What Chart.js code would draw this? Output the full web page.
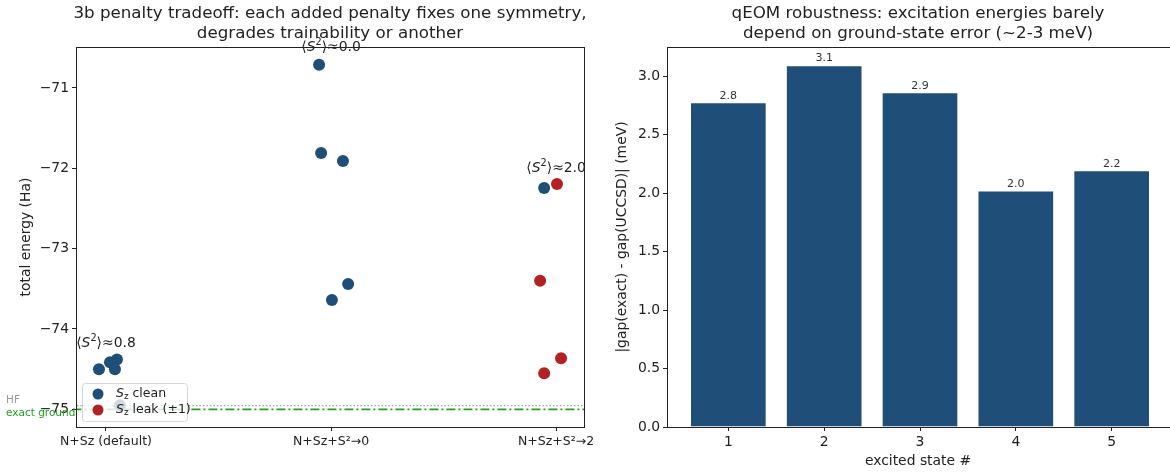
<!DOCTYPE html>
<html>
<head>
<meta charset="utf-8">
<script src="https://cdn.jsdelivr.net/npm/chart.js@4.4.1/dist/chart.umd.min.js"></script>
<style>
  html, body { margin: 0; padding: 0; background: #fff; overflow: hidden; }
  body { width: 1170px; height: 472px; position: relative; }
  canvas { position: absolute; top: 0; }
</style>
</head>
<body>
<canvas id="penaltyChart" width="600" height="472" style="left:0"></canvas>
<canvas id="qeomChart" width="575" height="472" style="left:600px"></canvas>
<script>
// left panel: energies per penalty setting (x = category index + jitter)
const penaltyCats = ['N+Sz (default)', 'N+Sz+S\u00b2\u21920', 'N+Sz+S\u00b2\u21922'];
const cleanX = [-0.031, 0.018, 0.049, 0.040, 0.062, 0.947, 0.956, 1.053, 1.004, 1.076, 1.947];
const cleanY = [-74.50, -74.415, -74.38, -74.50, -74.95, -70.71, -71.81, -71.91, -73.64, -73.44, -72.245];
const leakX = [2.004, 1.929, 2.022, 1.947];
const leakY = [-72.195, -73.40, -74.365, -74.55];
const hfEnergy = -74.955;
const exactEnergy = -75.0;
const s2Labels = ['0.8', '0.0', '2.0'];
const s2LabelY = [-74.18, -70.5, -72.0];
const energyTicks = [-75, -74, -73, -72, -71];

// right panel: qEOM gap error per excited state
const states = [1, 2, 3, 4, 5];
const gapErr = [2.776, 3.093, 2.862, 2.022, 2.194];
const gapTicks = [0, 0.5, 1.0, 1.5, 2.0, 2.5, 3.0];

const FONT = 'DejaVu Sans';
const BLUE = '#1f4e79';
const RED = '#b22222';
const GREEN = '#22a022';
const INK = '#222';

Chart.defaults.font.family = FONT;
Chart.defaults.color = INK;

// draw text made of parts: [text, style] where style is '', 'i', 'sup', 'sub'
function drawRich(ctx, parts, x, y, size, align) {
    const fontFor = (st) => {
        const sz = (st === 'sup' || st === 'sub') ? size * 0.7 : size;
        return (st === 'i' ? 'italic ' : '') + sz + 'px ' + FONT;
    };
    let total = 0;
    parts.forEach(p => { ctx.font = fontFor(p[1]); total += ctx.measureText(p[0]).width; });
    let cx = align === 'center' ? x - total / 2 : x;
    ctx.textBaseline = 'middle';
    ctx.textAlign = 'left';
    parts.forEach(p => {
        ctx.font = fontFor(p[1]);
        let dy = 0;
        if (p[1] === 'sup') dy = -size * 0.35;
        if (p[1] === 'sub') dy = size * 0.25;
        ctx.fillText(p[0], cx, y + dy);
        cx += ctx.measureText(p[0]).width;
    });
}

function drawTitle(ctx, lines, cx) {
    ctx.save();
    ctx.fillStyle = INK;
    ctx.font = '16.7px ' + FONT;
    ctx.textAlign = 'center';
    ctx.textBaseline = 'middle';
    lines.forEach((l, i) => ctx.fillText(l, cx, 14 + i * 20));
    ctx.restore();
}

function drawBox(ctx, area) {
    ctx.save();
    ctx.strokeStyle = INK;
    ctx.lineWidth = 1;
    ctx.strokeRect(area.left + 0.5, area.top + 0.5, area.right - area.left, area.bottom - area.top);
    ctx.restore();
}

const penaltyExtras = {
    id: 'penaltyExtras',
    afterDraw(chart) {
        const ctx = chart.ctx;
        const xs = chart.scales.x, ys = chart.scales.y;
        drawBox(ctx, chart.chartArea);
        drawTitle(ctx, ['3b penalty tradeoff: each added penalty fixes one symmetry,',
                        'degrades trainability or another'], 330);
        ctx.save();
        ctx.fillStyle = INK;
        // y axis title
        ctx.translate(26, 237);
        ctx.rotate(-Math.PI / 2);
        ctx.font = '13.9px ' + FONT;
        ctx.textAlign = 'center';
        ctx.textBaseline = 'middle';
        ctx.fillText('total energy (Ha)', 0, 0);
        ctx.restore();

        // <S^2> annotations
        ctx.save();
        ctx.fillStyle = INK;
        s2Labels.forEach((t, i) => {
            drawRich(ctx, [['\u27e8', ''], ['S', 'i'], ['2', 'sup'], ['\u27e9\u2248' + t, '']],
                xs.getPixelForValue(i), ys.getPixelForValue(s2LabelY[i]), 13.9, 'center');
        });
        ctx.restore();

        // reference line labels left of the axis
        ctx.save();
        ctx.font = '10.5px ' + FONT;
        ctx.textAlign = 'left';
        ctx.textBaseline = 'middle';
        ctx.fillStyle = '#999';
        ctx.fillText('HF', 6, 400);
        ctx.fillStyle = GREEN;
        ctx.fillText('exact ground', 6, 413);
        ctx.restore();

        // legend, lower left, semi transparent
        ctx.save();
        const lx = 82, ly = 383, lw = 105, lh = 38;
        ctx.beginPath();
        ctx.roundRect(lx + 0.5, ly + 0.5, lw, lh, 3);
        ctx.fillStyle = 'rgba(255,255,255,0.8)';
        ctx.fill();
        ctx.strokeStyle = '#d6d6d6';
        ctx.lineWidth = 1;
        ctx.stroke();
        [[BLUE, ' clean', 394], [RED, ' leak (\u00b11)', 410]].forEach(e => {
            ctx.beginPath();
            ctx.arc(98, e[2], 5.5, 0, Math.PI * 2);
            ctx.fillStyle = e[0];
            ctx.fill();
            ctx.fillStyle = INK;
            drawRich(ctx, [['S', 'i'], ['z', 'sub'], [e[1], '']], 116, e[2], 12.5, 'left');
        });
        ctx.restore();
    }
};

new Chart(document.getElementById('penaltyChart'), {
    type: 'scatter',
    data: {
        datasets: [{
            label: 'Sz clean',
            data: cleanX.map((x, i) => ({ x: x, y: cleanY[i] })),
            backgroundColor: BLUE,
            borderWidth: 0,
            pointRadius: 6,
            order: 1
        }, {
            label: 'Sz leak',
            data: leakX.map((x, i) => ({ x: x, y: leakY[i] })),
            backgroundColor: RED,
            borderWidth: 0,
            pointRadius: 6,
            order: 1
        }, {
            type: 'line',
            label: 'HF',
            data: [{ x: -0.3, y: hfEnergy }, { x: 2.3, y: hfEnergy }],
            borderColor: '#888',
            borderWidth: 1,
            borderDash: [1.5, 2],
            pointRadius: 0,
            order: 2
        }, {
            type: 'line',
            label: 'exact ground',
            data: [{ x: -0.3, y: exactEnergy }, { x: 2.3, y: exactEnergy }],
            borderColor: GREEN,
            borderWidth: 1.6,
            borderDash: [9, 3, 2, 3],
            pointRadius: 0,
            order: 2
        }]
    },
    options: {
        responsive: false,
        animation: false,
        devicePixelRatio: 1,
        layout: {
            padding: { left: 0, right: 16, top: 47, bottom: 0 }
        },
        scales: {
            x: {
                type: 'linear',
                min: -0.133,
                max: 2.124,
                afterFit: s => { s.height = 45; },
                afterBuildTicks: s => { s.ticks = [0, 1, 2].map(v => ({ value: v })); },
                grid: { display: true, drawOnChartArea: false, tickLength: 4, color: INK },
                border: { display: true, color: INK },
                ticks: {
                    padding: 3,
                    maxRotation: 0,
                    autoSkip: false,
                    font: { size: 12.5 },
                    callback: v => penaltyCats[v]
                }
            },
            y: {
                min: -75.22,
                max: -70.49,
                afterFit: s => { s.width = 76; },
                afterBuildTicks: s => { s.ticks = energyTicks.map(v => ({ value: v })); },
                grid: { display: true, drawOnChartArea: false, tickLength: 4, color: INK },
                border: { display: true, color: INK },
                ticks: {
                    padding: 3,
                    font: { size: 13.9 },
                    callback: v => '\u2212' + Math.abs(v)
                }
            }
        },
        plugins: {
            legend: { display: false },
            tooltip: { enabled: false }
        }
    },
    plugins: [penaltyExtras]
});

const qeomExtras = {
    id: 'qeomExtras',
    afterDatasetsDraw(chart) {
        const ctx = chart.ctx;
        const meta = chart.getDatasetMeta(0);
        ctx.save();
        ctx.fillStyle = '#333';
        ctx.font = '11px ' + FONT;
        ctx.textAlign = 'center';
        ctx.textBaseline = 'bottom';
        meta.data.forEach((bar, i) => {
            ctx.fillText(gapErr[i].toFixed(1), bar.x, bar.y - 1);
        });
        ctx.restore();
    },
    afterDraw(chart) {
        const ctx = chart.ctx;
        drawBox(ctx, chart.chartArea);
        drawTitle(ctx, ['qEOM robustness: excitation energies barely',
                        'depend on ground-state error (~2-3 meV)'], 318);
        ctx.save();
        ctx.fillStyle = INK;
        ctx.font = '13.9px ' + FONT;
        ctx.textAlign = 'center';
        ctx.textBaseline = 'middle';
        ctx.fillText('excited state #', 318, 461);
        ctx.translate(22, 237);
        ctx.rotate(-Math.PI / 2);
        ctx.fillText('|gap(exact) - gap(UCCSD)| (meV)', 0, 0);
        ctx.restore();
    }
};

new Chart(document.getElementById('qeomChart'), {
    type: 'bar',
    data: {
        datasets: [{
            label: 'gap error',
            data: states.map((s, i) => ({ x: s, y: gapErr[i] })),
            backgroundColor: BLUE,
            borderColor: 'rgba(255,255,255,0.25)',
            borderWidth: 1,
            categoryPercentage: 0.8,
            barPercentage: 1.0
        }]
    },
    options: {
        responsive: false,
        animation: false,
        devicePixelRatio: 1,
        layout: {
            padding: { left: 0, right: 2, top: 47, bottom: 0 }
        },
        scales: {
            x: {
                type: 'linear',
                min: 0.36,
                max: 5.64,
                offset: false,
                afterFit: s => { s.height = 45; },
                afterBuildTicks: s => { s.ticks = states.map(v => ({ value: v })); },
                grid: { display: true, drawOnChartArea: false, tickLength: 4, color: INK, offset: false },
                border: { display: true, color: INK },
                ticks: { padding: 3, font: { size: 13.9 } }
            },
            y: {
                min: 0,
                max: 3.248,
                afterFit: s => { s.width = 67; },
                afterBuildTicks: s => { s.ticks = gapTicks.map(v => ({ value: v })); },
                grid: { display: true, drawOnChartArea: false, tickLength: 4, color: INK },
                border: { display: true, color: INK },
                ticks: {
                    padding: 3,
                    font: { size: 13.9 },
                    callback: v => v.toFixed(1)
                }
            }
        },
        plugins: {
            legend: { display: false },
            tooltip: { enabled: false }
        }
    },
    plugins: [qeomExtras]
});
</script>
</body>
</html>
